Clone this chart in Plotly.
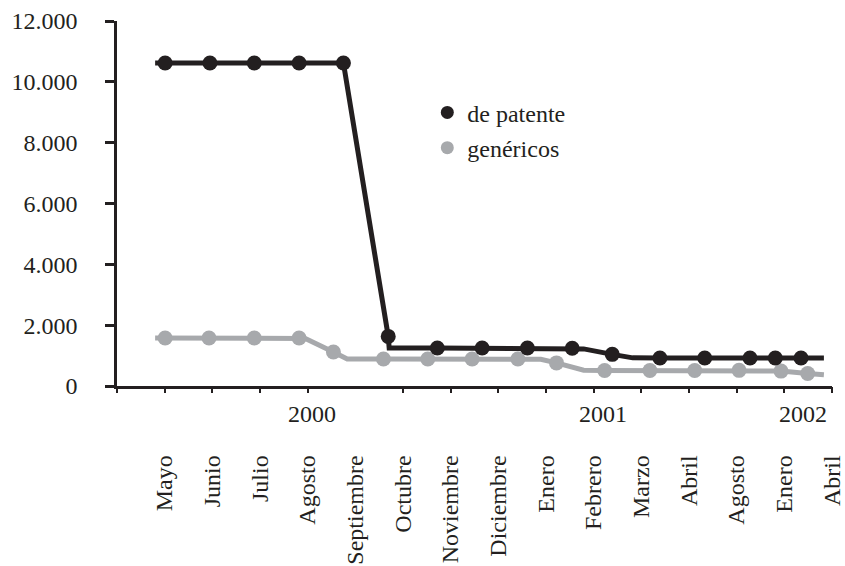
import plotly.graph_objects as go

# ---- data ----
meses = ["Mayo", "Junio", "Julio", "Agosto", "Septiembre", "Octubre", "Noviembre",
         "Diciembre", "Enero", "Febrero", "Marzo", "Abril", "Agosto", "Enero", "Abril"]
mes_pos = list(range(1, 16))
tick_pos = [0, 1, 2, 3, 4, 6, 7, 8, 9, 10, 11, 12, 13, 14, 15]
anios = ["2000", "2001", "2002"]
anio_pos = [4.1, 10.2, 14.4]

pat_x = [0.80, 1.01, 1.95, 2.88, 3.82, 4.75, 5.69, 5.71, 6.72, 7.66, 8.61, 9.55,
         9.79, 10.39, 10.82, 11.39, 12.33, 13.28, 13.81, 14.35, 14.83]
pat_y = [10620, 10620, 10620, 10620, 10620, 10620, 1630, 1250, 1250, 1250, 1250, 1240,
         1220, 1040, 925, 920, 920, 920, 920, 920, 920]
pat_m = [0, 1, 1, 1, 1, 1, 1, 0, 1, 1, 1, 1, 0, 1, 0, 1, 1, 1, 1, 1, 0]

gen_x = [0.80, 1.01, 1.93, 2.88, 3.82, 3.95, 4.54, 4.83, 5.59, 6.52, 7.45, 8.41,
         8.89, 9.22, 9.79, 10.23, 11.18, 12.12, 13.05, 13.93, 14.49, 14.83]
gen_y = [1580, 1580, 1580, 1580, 1580, 1560, 1120, 890, 890, 890, 890, 890,
         880, 760, 520, 510, 510, 510, 515, 490, 410, 370]
gen_m = [0, 1, 1, 1, 1, 0, 1, 0, 1, 1, 1, 1, 0, 1, 0, 1, 1, 1, 1, 1, 1, 0]

y_ticks = [0, 2000, 4000, 6000, 8000, 10000, 12000]

BLACK = "#231f20"
GRAY = "#a7a9ac"
FONT = "Liberation Serif"
FS = 24
MS = 15

fig = go.Figure()
fig.add_trace(go.Scatter(
    x=gen_x, y=gen_y, mode="lines+markers", showlegend=False,
    line=dict(color=GRAY, width=5),
    marker=dict(color=GRAY, opacity=1, size=[MS * m for m in gen_m], line=dict(width=0)),
))
fig.add_trace(go.Scatter(
    x=pat_x, y=pat_y, mode="lines+markers", showlegend=False,
    line=dict(color=BLACK, width=5),
    marker=dict(color=BLACK, opacity=1, size=[MS * m for m in pat_m], line=dict(width=0)),
))
# legend entries (markers only)
fig.add_trace(go.Scatter(x=[None], y=[None], mode="markers", name="de patente",
                         legendgroup="a", xaxis="x2",
                         marker=dict(color=BLACK, size=13)))
fig.add_trace(go.Scatter(x=[None], y=[None], mode="markers", name="genéricos",
                         legendgroup="b", xaxis="x2",
                         marker=dict(color=GRAY, size=13)))

for a, p in zip(anios, anio_pos):
    fig.add_annotation(x=p, y=-0.077, xref="x", yref="paper", text=a,
                       showarrow=False, xanchor="center", yanchor="middle",
                       font=dict(family=FONT, size=FS, color=BLACK))

fig.update_layout(
    width=845, height=566,
    margin=dict(l=117, r=13, t=21, b=180, autoexpand=False),
    paper_bgcolor="white", plot_bgcolor="white",
    separators=",.",
    font=dict(family=FONT, size=FS, color=BLACK),
    xaxis=dict(range=[0, 15], tickmode="array", tickvals=mes_pos, ticktext=meses,
               tickangle=-90, ticks="", showgrid=False, zeroline=False,
               showline=True, linecolor=BLACK, linewidth=2.5, automargin=False,
               ticklabelstandoff=57, tickfont=dict(family=FONT, size=FS, color=BLACK)),
    xaxis2=dict(range=[0, 15], overlaying="x", side="bottom", tickmode="array",
                tickvals=tick_pos, ticks="outside", ticklen=6, tickwidth=2,
                tickcolor=BLACK, showticklabels=False, showgrid=False,
                zeroline=False, showline=False, automargin=False),
    yaxis=dict(range=[0, 12000], tickmode="array", tickvals=y_ticks,
               tickformat=",.0f", ticks="outside", ticklen=9, tickwidth=2.5,
               tickcolor=BLACK, showline=True, linecolor=BLACK, linewidth=2.5,
               showgrid=False, zeroline=False, ticklabelstandoff=23, automargin=False,
               tickfont=dict(family=FONT, size=FS, color=BLACK)),
    legend=dict(x=0.434, y=0.81, xanchor="left", yanchor="top",
                traceorder="grouped", tracegroupgap=1,
                bgcolor="rgba(0,0,0,0)", font=dict(family=FONT, size=FS, color=BLACK)),
)

fig.write_html("out.html", config={"displayModeBar": False},
               post_script="document.body.style.margin='0px';document.body.style.overflow='hidden';")
